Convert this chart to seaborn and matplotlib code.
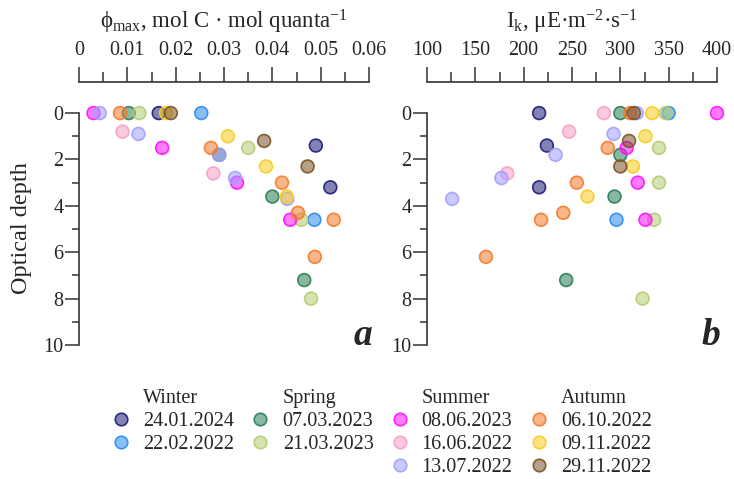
import numpy as np
import pandas as pd
import seaborn as sns
import matplotlib
matplotlib.use("Agg")
import matplotlib.pyplot as plt
from matplotlib.lines import Line2D
from matplotlib.ticker import MultipleLocator, FuncFormatter, FixedLocator
from matplotlib.colors import to_rgba

sns.set_theme(style="white")
plt.rcParams["font.family"] = ["Liberation Serif", "DejaVu Serif"]
plt.rcParams["mathtext.fontset"] = "custom"
plt.rcParams["mathtext.rm"] = "Liberation Serif"
plt.rcParams["mathtext.it"] = "Liberation Serif:italic"
plt.rcParams["mathtext.bf"] = "Liberation Serif:bold"

nan = np.nan

# ---- data ----
seasons = ["Winter", "Spring", "Summer", "Autumn"]
season_dates = {
    "Winter": ["24.01.2024", "22.02.2022"],
    "Spring": ["07.03.2023", "21.03.2023"],
    "Summer": ["08.06.2023", "16.06.2022", "13.07.2022"],
    "Autumn": ["06.10.2022", "09.11.2022", "29.11.2022"],
}
colors = ["#1c1c78", "#2a8cf0", "#2b7d57", "#b4cc72", "#ff10ff",
          "#f7a0c8", "#a0a0ff", "#f57a2a", "#f8cc20", "#7a5226"]

depth_240124 = [0, 1.4, 3.2]
phi_240124 = [0.0165, 0.049, 0.052]
ik_240124 = [216, 224, 216]

depth_220222 = [0, 4.6]
phi_220222 = [0.0253, 0.0487]
ik_220222 = [350, 296]

depth_070323 = [0, 1.8, 3.6, 7.2]
phi_070323 = [0.0103, 0.029, 0.040, 0.0466]
ik_070323 = [300, 300, 294, 244]

depth_210323 = [0, 1.5, 3.0, 4.6, 8.0]
phi_210323 = [0.0125, 0.035, nan, 0.046, 0.048]
ik_210323 = [347, 340, 340, 335, 323]

depth_080623 = [0, 1.5, 3.0, 4.6]
phi_080623 = [0.003, 0.0172, 0.0327, 0.0437]
ik_080623 = [400, 306.5, 318, 326]

depth_160622 = [0, 0.8, 2.6]
phi_160622 = [nan, 0.009, 0.0278]
ik_160622 = [283, 247, 183]

depth_130722 = [0, 0.9, 1.8, 2.8, 3.7]
phi_130722 = [0.0043, 0.0123, 0.029, 0.0323, 0.0431]
ik_130722 = [317, 293, 233, 177, 126]

depth_061022 = [0, 1.5, 3.0, 4.3, 4.6, 6.2]
phi_061022 = [0.0085, 0.0273, 0.042, 0.0453, 0.0527, 0.0488]
ik_061022 = [310, 287, 255, 241, 218, 161]

depth_091122 = [0, 1.0, 2.3, 3.6]
phi_091122 = [0.018, 0.0308, 0.0387, 0.043]
ik_091122 = [333, 326, 313, 266]

depth_291122 = [0, 1.2, 2.3]
phi_291122 = [0.019, 0.0383, 0.0473]
ik_291122 = [314, 309, 300]

series = [
    ("24.01.2024", depth_240124, phi_240124, ik_240124),
    ("22.02.2022", depth_220222, phi_220222, ik_220222),
    ("07.03.2023", depth_070323, phi_070323, ik_070323),
    ("21.03.2023", depth_210323, phi_210323, ik_210323),
    ("08.06.2023", depth_080623, phi_080623, ik_080623),
    ("16.06.2022", depth_160622, phi_160622, ik_160622),
    ("13.07.2022", depth_130722, phi_130722, ik_130722),
    ("06.10.2022", depth_061022, phi_061022, ik_061022),
    ("09.11.2022", depth_091122, phi_091122, ik_091122),
    ("29.11.2022", depth_291122, phi_291122, ik_291122),
]
rows = []
for name, d, p, k in series:
    for di, pi, ki in zip(d, p, k):
        rows.append({"date": name, "depth": di, "phi": pi, "ik": ki})
df = pd.DataFrame(rows)
order = [s[0] for s in series]
palette = dict(zip(order, colors))

# ---- figure ----
W, H = 734, 479
fig = plt.figure(figsize=(W / 100, H / 100), dpi=100)
axL = fig.add_axes([79 / W, 1 - 345 / H, 290 / W, 263 / H])
axR = fig.add_axes([427 / W, 1 - 345 / H, 290 / W, 263 / H])

spine_col = "#333333"
for ax, xcol, xlim, maj, mnr, fmt, title, letter in [
    (axL, "phi", (0, 0.06), 0.01, 0.005,
     lambda v, p: "0" if abs(v) < 1e-12 else f"{v:.2f}",
     r"$\mathrm{\phi}_{\mathrm{max}}$, mol C · mol quanta$^{-1}$", "a"),
    (axR, "ik", (100, 400), 50, 25,
     lambda v, p: f"{v:.0f}",
     r"I$_{\mathrm{k}}$, μE·m$^{-2}$·s$^{-1}$", "b"),
]:
    sub = df.dropna(subset=[xcol])
    sns.scatterplot(data=sub, x=xcol, y="depth", hue="date", hue_order=order,
                    palette=palette, s=85, linewidth=1.2, legend=False, ax=ax,
                    zorder=3)
    coll = ax.collections[-1]
    fc = np.array(coll.get_facecolors())
    ec = fc.copy()
    ec[:, 3] = 0.9
    fc[:, 3] = 0.55
    coll.set_facecolors(fc)
    coll.set_edgecolors(ec)
    coll.set_clip_on(False)

    ax.set_xlim(*xlim)
    ax.set_ylim(10, -1.34)
    ax.xaxis.tick_top()
    ax.xaxis.set_label_position("top")
    ax.xaxis.set_major_locator(MultipleLocator(maj))
    ax.xaxis.set_minor_locator(MultipleLocator(mnr))
    ax.xaxis.set_major_formatter(FuncFormatter(fmt))
    ax.yaxis.set_major_locator(FixedLocator([0, 2, 4, 6, 8, 10]))
    ax.yaxis.set_minor_locator(FixedLocator([1, 3, 5, 7, 9]))
    ax.tick_params(axis="x", which="major", direction="out", length=11,
                   width=1.1, color=spine_col, labelsize=14.5, pad=5,
                   top=True, bottom=False)
    ax.tick_params(axis="x", which="minor", direction="out", length=7,
                   width=1.1, color=spine_col, top=True, bottom=False)
    ax.tick_params(axis="y", which="major", direction="out", length=10,
                   width=1.1, color=spine_col, labelsize=14.5, pad=1,
                   left=True)
    ax.tick_params(axis="y", which="minor", direction="out", length=5,
                   width=1.1, color=spine_col, left=True)
    for s in ["bottom", "right"]:
        ax.spines[s].set_visible(False)
    for s in ["top", "left"]:
        ax.spines[s].set_color(spine_col)
        ax.spines[s].set_linewidth(1.2)
    ax.spines["left"].set_bounds(0, 10)
    ax.set_xlabel(title, fontsize=16.5, labelpad=9)
    ax.set_ylabel("")
    ax.grid(False)
    ax.text(1.012, 0.0, letter, transform=ax.transAxes, ha="right",
            va="baseline", fontsize=27, fontweight="bold", fontstyle="italic")

axL.set_ylabel("Optical depth", fontsize=17.5)
axL.yaxis.set_label_coords(-0.162, 0.445)

# ---- legend ----
handles, labels = [], []
for season in seasons:
    handles.append(Line2D([], [], linestyle="none", marker=None))
    labels.append(season)
    dl = season_dates[season]
    for dname in dl:
        c = palette[dname]
        handles.append(Line2D([], [], linestyle="none", marker="o",
                              markersize=9,
                              markerfacecolor=to_rgba(c, 0.55),
                              markeredgecolor=to_rgba(c, 0.9),
                              markeredgewidth=1.2))
        labels.append(dname)
    for _ in range(3 - len(dl)):
        handles.append(Line2D([], [], linestyle="none", marker=None))
        labels.append("")

fig.legend(handles, labels, ncol=4, loc="upper center",
           bbox_to_anchor=(382 / W, 1 - 389 / H), frameon=False,
           fontsize=14.5, handlelength=0.9, handletextpad=0.65,
           columnspacing=0.85, labelspacing=0.2, borderpad=0,
           borderaxespad=0)

fig.savefig("out.png", dpi=100)
